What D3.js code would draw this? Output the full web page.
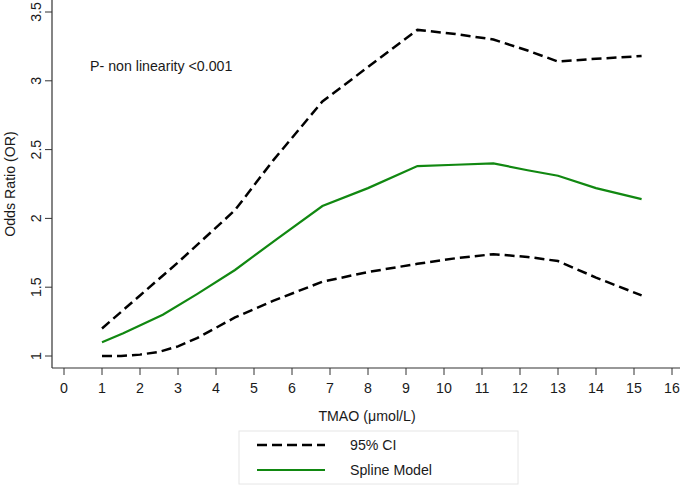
<!DOCTYPE html>
<html><head><meta charset="utf-8">
<script src="https://cdn.jsdelivr.net/npm/d3@7"></script>
<style>body{margin:0;background:#fff}svg{display:block}text{font-family:"Liberation Sans",Arial,sans-serif;fill:#1a1a1a}</style>
</head><body>
<script>
const xTicks = [0,1,2,3,4,5,6,7,8,9,10,11,12,13,14,15,16];
const yTicks = [1,1.5,2,2.5,3,3.5];
const yTickLabels = ["1","1.5","2","2.5","3","3.5"];
const upperX = [1,2,3,4.5,5.5,6.8,8,9.3,10.3,11.3,12.2,13,14,15.2];
const upperY = [1.20,1.44,1.68,2.06,2.42,2.85,3.10,3.37,3.34,3.30,3.22,3.14,3.16,3.18];
const splineX = [1,1.56,2.6,3.5,4.5,5.6,6.8,8,9.3,10.3,11.3,12.2,13,14,15.2];
const splineY = [1.10,1.165,1.30,1.45,1.625,1.85,2.09,2.22,2.38,2.39,2.40,2.35,2.31,2.22,2.14];
const lowerX = [1,1.5,2,2.5,3,3.5,4.5,5.5,6.8,8,9.3,10.3,11.3,12.2,13,14,15.2];
const lowerY = [1.0,1.0,1.01,1.03,1.07,1.13,1.28,1.40,1.54,1.61,1.67,1.71,1.74,1.72,1.69,1.57,1.44];
const legendLabels = ["95% CI","Spline Model"];
const pText = "P- non linearity <0.001";
const xTitle = "TMAO (\u03bcmol/L)";
const yTitle = "Odds Ratio (OR)";

(function(){
const W=685,H=486, fs=14.2;
const svg=d3.select("body").append("svg").attr("width",W).attr("height",H);
const x=d3.scaleLinear().domain([0,16]).range([64,672]);
const y=d3.scaleLinear().domain([1,3.5]).range([356,12]);
const pl=52, pb=368, pr=680, pt=0;

svg.append("line").attr("x1",pl).attr("x2",pl).attr("y1",pt).attr("y2",pb).attr("stroke","#333").attr("stroke-width",1.2);
svg.append("line").attr("x1",pl).attr("x2",pr).attr("y1",pb).attr("y2",pb).attr("stroke","#333").attr("stroke-width",1.2);

const xa=svg.append("g");
xTicks.forEach(t=>{
  xa.append("line").attr("x1",x(t)).attr("x2",x(t)).attr("y1",pb).attr("y2",pb+7).attr("stroke","#333");
  xa.append("text").attr("x",x(t)).attr("y",393).attr("text-anchor","middle").attr("font-size",fs).text(t);
});
const ya=svg.append("g");
yTicks.forEach((t,i)=>{
  ya.append("line").attr("x1",pl-7).attr("x2",pl).attr("y1",y(t)).attr("y2",y(t)).attr("stroke","#333");
  ya.append("text").attr("transform",`translate(41,${y(t)}) rotate(-90)`).attr("text-anchor","middle").attr("font-size",fs).text(yTickLabels[i]);
});

svg.append("text").attr("x",367).attr("y",421).attr("text-anchor","middle").attr("font-size",fs).text(xTitle);
svg.append("text").attr("transform","translate(15,184) rotate(-90)").attr("text-anchor","middle").attr("font-size",fs).text(yTitle);
svg.append("text").attr("x",90).attr("y",71).attr("font-size",fs).text(pText);

const line=d3.line().x(d=>x(d[0])).y(d=>y(d[1]));
const dash="10,5";
svg.append("path").datum(upperX.map((v,i)=>[v,upperY[i]])).attr("d",line).attr("fill","none").attr("stroke","#000").attr("stroke-width",2.5).attr("stroke-dasharray",dash);
svg.append("path").datum(lowerX.map((v,i)=>[v,lowerY[i]])).attr("d",line).attr("fill","none").attr("stroke","#000").attr("stroke-width",2.5).attr("stroke-dasharray",dash);
svg.append("path").datum(splineX.map((v,i)=>[v,splineY[i]])).attr("d",line).attr("fill","none").attr("stroke","#118811").attr("stroke-width",2.2);

const lg=svg.append("g");
lg.append("rect").attr("x",239).attr("y",431).attr("width",279).attr("height",53).attr("fill","#fff").attr("stroke","#e6e6e6");
lg.append("line").attr("x1",257).attr("x2",325).attr("y1",445).attr("y2",445).attr("stroke","#000").attr("stroke-width",2.5).attr("stroke-dasharray",dash);
lg.append("line").attr("x1",257).attr("x2",325).attr("y1",470).attr("y2",470).attr("stroke","#118811").attr("stroke-width",2.2);
lg.append("text").attr("x",350).attr("y",450).attr("font-size",fs).text(legendLabels[0]);
lg.append("text").attr("x",350).attr("y",475).attr("font-size",fs).text(legendLabels[1]);
})();
</script>
</body></html>
